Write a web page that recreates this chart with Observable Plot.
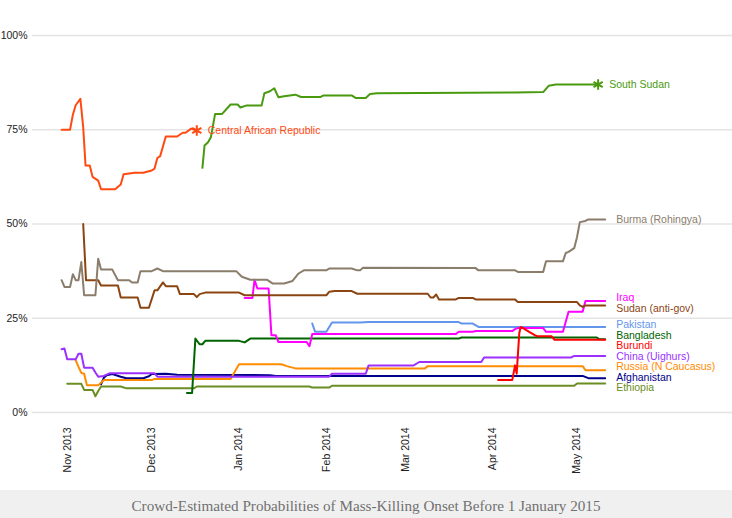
<!DOCTYPE html>
<html><head><meta charset="utf-8">
<script src="https://cdn.jsdelivr.net/npm/d3@7"></script>
<script src="https://cdn.jsdelivr.net/npm/@observablehq/plot@0.6"></script>
<style>
body{margin:0;background:#fff;}
#caption{width:732px;height:28px;background:#f0f0f0;font-family:"Liberation Serif","Times New Roman",serif;font-size:15.2px;color:#707070;text-align:center;line-height:31px;}
</style></head>
<body><div id="chart"></div><div id="caption">Crowd-Estimated Probabilities of Mass-Killing Onset Before 1 January 2015</div>
<script>
// ---- data (date, probability %) ----
const car = [["2013-10-30",75],["2013-11-02",75],["2013-11-03",79],["2013-11-04",81.5],["2013-11-05T16:00",83.2],["2013-11-06T16:00",75.7],["2013-11-07T12:00",65.5],["2013-11-09",65.5],["2013-11-10",62.5],["2013-11-12",61.5],["2013-11-13",59.2],["2013-11-18",59.2],["2013-11-20",60.5],["2013-11-21",63.2],["2013-11-25",63.6],["2013-11-28",63.6],["2013-12-01",64.2],["2013-12-02",64.7],["2013-12-03",67.5],["2013-12-04",68],["2013-12-06",73.2],["2013-12-10",73.2],["2013-12-12",74.2],["2013-12-13",74.2],["2013-12-15",75.3],["2013-12-17",74.8]];
const southSudan = [["2013-12-19",64.9],["2013-12-19T18:00",70.8],["2013-12-21",71.7],["2013-12-22",73],["2013-12-23T12:00",79.2],["2013-12-26",79.2],["2013-12-29",81.7],["2013-12-31T12:00",81.7],["2014-01-01T12:00",80.9],["2014-01-03T12:00",81.4],["2014-01-09",81.4],["2014-01-10",84.7],["2014-01-12",85.2],["2014-01-13T12:00",86],["2014-01-15",83.6],["2014-01-17",83.9],["2014-01-21",84.3],["2014-01-23",83.7],["2014-01-30",83.7],["2014-01-31",84.1],["2014-02-10",84.1],["2014-02-11T12:00",83.4],["2014-02-15",83.4],["2014-02-16T12:00",84.5],["2014-02-19",84.7],["2014-04-09",84.9],["2014-04-19",85],["2014-04-21",86.7],["2014-04-23T12:00",87],["2014-05-08T12:00",87]];
const burma = [["2013-10-30",35.1],["2013-10-31",33.3],["2013-11-02",33.3],["2013-11-03",36.7],["2013-11-04",35.1],["2013-11-05",35.1],["2013-11-06",39.9],["2013-11-07",31.1],["2013-11-11",31.1],["2013-11-12",40.8],["2013-11-13",37.9],["2013-11-17",37.9],["2013-11-19",35.1],["2013-11-23",35.1],["2013-11-24",34.5],["2013-11-26",34.5],["2013-11-27",37.5],["2013-12-01",37.5],["2013-12-03",38.2],["2013-12-05",37.5],["2013-12-31",37.5],["2014-01-02",36],["2014-01-05",35.2],["2014-01-11",35.2],["2014-01-13",34.2],["2014-01-17",34.2],["2014-01-20",34.9],["2014-01-22",36.8],["2014-01-24",37.7],["2014-02-01",37.7],["2014-02-02",38.2],["2014-02-10",38.2],["2014-02-12",37.7],["2014-02-13",37.7],["2014-02-14",38.4],["2014-03-26",38.3],["2014-03-27",37.7],["2014-04-09",37.7],["2014-04-10",37.3],["2014-04-19",37.3],["2014-04-20",40.1],["2014-04-26",40.1],["2014-04-27",42.3],["2014-04-28",42.6],["2014-04-30",43.6],["2014-05-01",46.5],["2014-05-02",50.5],["2014-05-04",50.8],["2014-05-05",51.2],["2014-05-11",51.2]];
const sudan = [["2013-11-06T16:00",50],["2013-11-07T16:00",35.1],["2013-11-12",35.1],["2013-11-13",33.7],["2013-11-19",33.7],["2013-11-20",30.5],["2013-11-26",30.5],["2013-11-27",27.8],["2013-11-30",27.8],["2013-12-02",32.4],["2013-12-03",32.4],["2013-12-05",34.5],["2013-12-06",33.5],["2013-12-10",33.5],["2013-12-11",31.4],["2013-12-16",31.4],["2013-12-17",30.6],["2013-12-18",31.4],["2013-12-20",31.8],["2014-01-01",31.8],["2014-01-03",31.1],["2014-02-01",31.1],["2014-02-02",32],["2014-02-04",32.2],["2014-02-10",32.2],["2014-02-12",31.5],["2014-03-09",31.5],["2014-03-10",30.5],["2014-03-11",30.5],["2014-03-12",31.3],["2014-03-13",30],["2014-03-19",30],["2014-03-20",30.4],["2014-03-25",30.4],["2014-03-26",30],["2014-04-09",30],["2014-04-10",29.3],["2014-05-01",29.3],["2014-05-02",28.4],["2014-05-03",28],["2014-05-04",28.4],["2014-05-11",28.4]];
const iraq = [["2014-01-03",30.4],["2014-01-05T18:00",30.4],["2014-01-06T12:00",35.2],["2014-01-07T12:00",32.9],["2014-01-11T12:00",32.9],["2014-01-12T12:00",20.5],["2014-01-14",20.5],["2014-01-15",18.7],["2014-01-25",18.7],["2014-01-26",17.6],["2014-01-27",20.8],["2014-03-19",20.8],["2014-03-20",21.4],["2014-03-25",21.4],["2014-03-26",21.6],["2014-04-08",21.6],["2014-04-09",22.1],["2014-04-10",22.4],["2014-04-19",22.4],["2014-04-20",21.4],["2014-04-26",21.4],["2014-04-28",26.7],["2014-05-03",26.7],["2014-05-04",29.6],["2014-05-11",29.6]];
const pakistan = [["2014-01-27",23.6],["2014-01-28",21.4],["2014-02-01",21.4],["2014-02-03",23.9],["2014-02-13",23.9],["2014-02-16",24],["2014-03-20",24],["2014-03-21",23.6],["2014-03-25",23.6],["2014-03-27",22.7],["2014-05-11",22.7]];
const bangladesh = [["2013-12-13T12:00",5.2],["2013-12-15T08:00",5.2],["2013-12-16T12:00",19.6],["2013-12-18",18.1],["2013-12-19",18.1],["2013-12-20",19],["2014-01-01",19],["2014-01-03",18.6],["2014-01-05",19.6],["2014-03-20",19.6],["2014-03-21",19.9],["2014-05-08",19.9],["2014-05-09",19.4],["2014-05-11",19.4]];
const burundi = [["2014-04-03",8.6],["2014-04-08",8.6],["2014-04-09",12.5],["2014-04-09T14:00",10.3],["2014-04-10T12:00",21],["2014-04-11",22.7],["2014-04-12",22.3],["2014-04-14",21.4],["2014-04-16",20.5],["2014-04-17",20.2],["2014-04-22",20.2],["2014-04-23",19.3],["2014-05-11",19.3]];
const china = [["2013-10-30",16.8],["2013-10-31",17],["2013-11-01",14.1],["2013-11-04",14.1],["2013-11-05",15.6],["2013-11-06",15.6],["2013-11-07",11.9],["2013-11-10",11.9],["2013-11-11",10.6],["2013-11-12",9.5],["2013-11-14",9.7],["2013-11-16",10.4],["2013-12-02",10.4],["2013-12-03",9.5],["2014-02-02",9.5],["2014-02-03",10.3],["2014-02-15",10.3],["2014-02-16",12.5],["2014-03-04",12.5],["2014-03-06",13.4],["2014-03-28",13.4],["2014-03-29",14.6],["2014-04-29",14.6],["2014-04-30",15],["2014-05-11",15]];
const russia = [["2013-11-04",13.9],["2013-11-05",12.1],["2013-11-06",10.5],["2013-11-07",10.3],["2013-11-08",7.2],["2013-11-12",7.2],["2013-11-14",8.6],["2013-12-01",8.6],["2013-12-02",8.9],["2013-12-29",8.9],["2014-01-01",12.8],["2014-01-16",12.8],["2014-01-18",12.3],["2014-01-21",11.7],["2014-03-08",11.7],["2014-03-09",12.3],["2014-05-03",12.3],["2014-05-04",11.2],["2014-05-11",11.2]];
const afghanistan = [["2013-11-13",7.5],["2013-11-14",9.2],["2013-11-15",9.9],["2013-11-17",10.2],["2013-11-20",9.5],["2013-11-22",9.1],["2013-11-28",9.1],["2013-11-30",9.6],["2013-12-01",10.2],["2013-12-06",10.3],["2013-12-10",10],["2014-01-12",9.9],["2014-01-14",9.7],["2014-05-03",9.7],["2014-05-05",9.1],["2014-05-11",9.1]];
const ethiopia = [["2013-11-01",7.6],["2013-11-06",7.6],["2013-11-07",6],["2013-11-10",6],["2013-11-11",4.3],["2013-11-12",5.7],["2013-11-13",6.9],["2013-11-20",6.9],["2013-11-22",6.4],["2013-12-16",6.4],["2013-12-17",6.9],["2014-01-26",6.9],["2014-01-27",6.6],["2014-02-02",6.6],["2014-02-03",7.1],["2014-04-30",7.1],["2014-05-01",7.7],["2014-05-11",7.7]];

const countries = ["Ethiopia","Afghanistan","Russia (N Caucasus)","China (Uighurs)","Bangladesh","Pakistan","Iraq","Burundi","Sudan (anti-gov)","Burma (Rohingya)","South Sudan","Central African Republic"];
const countrySeries = [ethiopia, afghanistan, russia, china, bangladesh, pakistan, iraq, burundi, sudan, burma, southSudan, car];
const countryColors = ["#6b8e23","#00008b","#ff8c00","#9b30ff","#006400","#6495ed","#ff00ff","#ff0000","#8b4513","#8b7d6b","#4a9a10","#ff4a12"];
const starred = ["South Sudan","Central African Republic"];
const yTicks = [0,25,50,75,100];
const monthTicks = ["2013-11-01","2013-12-01","2014-01-01","2014-02-01","2014-03-01","2014-04-01","2014-05-01"];
const xDomain = ["2013-10-19T16:00","2014-06-25T05:00"];

// ---- build ----
const parse = s => new Date(s.length > 10 ? s + "Z" : s + "T00:00Z");
const rows = countries.flatMap((c, i) => countrySeries[i].map(([d, v]) => ({country: c, date: parse(d), value: v})));
const ends = countries.map((c, i) => { const p = countrySeries[i][countrySeries[i].length - 1]; return {country: c, date: parse(p[0]), value: p[1]}; });

function dodge(vals, gap) {
  const idx = d3.range(vals.length).sort((a, b) => vals[b] - vals[a]);
  const clusters = [];
  for (const i of idx) {
    clusters.push({ids: [i], sum: vals[i]});
    while (clusters.length > 1) {
      const b = clusters[clusters.length - 1], a = clusters[clusters.length - 2];
      const aBottom = a.sum / a.ids.length - (a.ids.length - 1) * gap / 2;
      const bTop = b.sum / b.ids.length + (b.ids.length - 1) * gap / 2;
      if (aBottom - bTop < gap) { a.ids.push(...b.ids); a.sum += b.sum; clusters.pop(); } else break;
    }
  }
  const out = [];
  for (const c of clusters) {
    const m = c.sum / c.ids.length;
    c.ids.forEach((id, k) => out[id] = m + ((c.ids.length - 1) / 2 - k) * gap);
  }
  return out;
}
const plainEnds = ends.filter(e => !starred.includes(e.country));
const dodged = dodge(plainEnds.map(e => e.value), 2.8);
const labels = plainEnds.map((e, i) => ({...e, labelY: dodged[i]}));
const starEnds = ends.filter(e => starred.includes(e.country));

const chart = Plot.plot({
  width: 732, height: 490,
  marginLeft: 32, marginRight: 0, marginTop: 35, marginBottom: 78,
  style: {fontFamily: "'Liberation Sans', Arial, sans-serif", fontSize: "10.5px", color: "#222", background: "#fff", overflow: "visible"},
  x: {type: "utc", domain: xDomain.map(parse), ticks: monthTicks.map(parse), tickFormat: d3.utcFormat("%b %Y"), tickRotate: -90, tickSize: 0, tickPadding: 15, label: null},
  y: {domain: [0, 100], ticks: yTicks, tickFormat: d => d + "%", tickSize: 0, tickPadding: 5, label: null},
  color: {domain: countries, range: countryColors},
  marks: [
    Plot.ruleY(yTicks, {stroke: "#e4e4e4", strokeWidth: 1.5}),
    Plot.line(rows, {x: "date", y: "value", z: "country", stroke: "country", strokeWidth: 2, strokeLinejoin: "round"}),
    Plot.dot(starEnds, {x: "date", y: "value", stroke: "country", symbol: "asterisk", r: 5, strokeWidth: 2}),
    Plot.text(starEnds, {x: "date", y: "value", text: "country", fill: "country", dx: 11, textAnchor: "start", fontSize: 10.5}),
    Plot.text(labels, {x: "date", y: "labelY", text: "country", fill: "country", dx: 11, textAnchor: "start", fontSize: 10.5})
  ]
});
document.getElementById("chart").appendChild(chart);
</script>
</body></html>
